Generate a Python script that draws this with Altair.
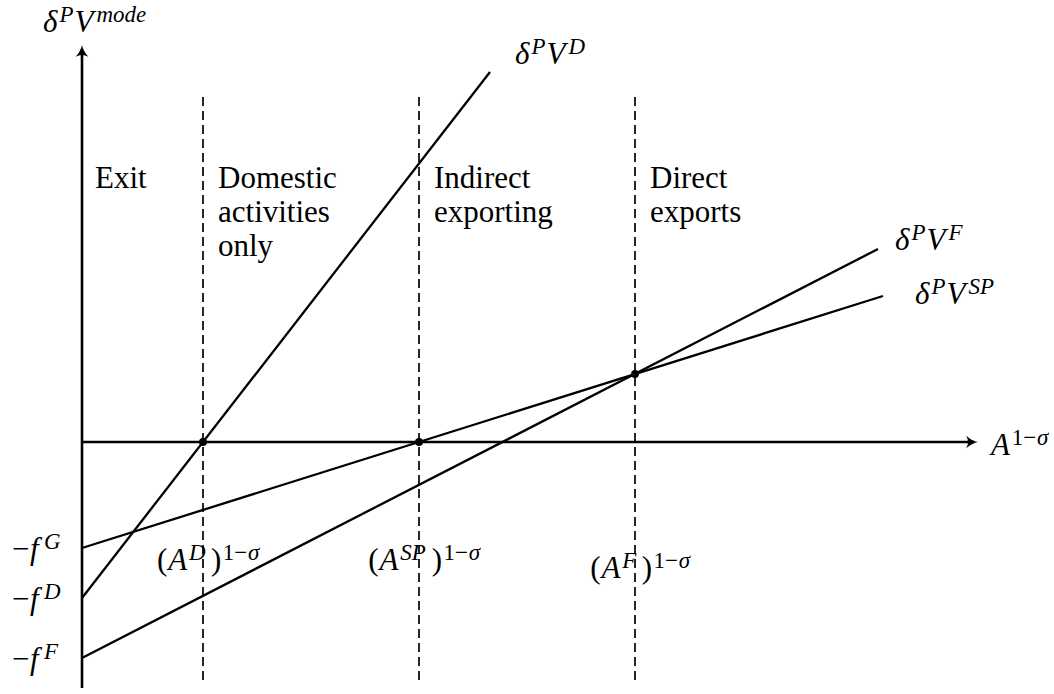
import altair as alt
import pandas as pd

# ---------------------------------------------------------------------------
# Values of the diagram (horizontal: A^{1-sigma}, vertical: delta^P V^mode)
# ---------------------------------------------------------------------------
cutoff_names = ["D", "SP", "F"]
cutoff_x = [12.1, 33.7, 55.3]          # (A^D), (A^SP), (A^F) to the power 1-sigma

line_names = ["D", "SP", "F"]
line_start_y = [-15.6, -10.6, -21.6]   # -f^D, -f^G, -f^F
line_end_x = [40.8, 80.1, 79.6]
line_end_y = [37.0, 14.6, 19.3]

dot_x = [12.1, 33.7, 55.3]
dot_y = [0.0, 0.0, 6.8]

regime_text = ["Exit", "Domestic\nactivities\nonly", "Indirect\nexporting", "Direct\nexports"]
regime_from = [0.0, 12.1, 33.7, 55.3]

x_axis_end = 89.6
y_axis_start = -24.6
y_axis_end = 39.7
guide_top = 34.5
guide_bottom = -23.8

# ---------------------------------------------------------------------------
# Frame: one data unit is 10 px on both axes
# ---------------------------------------------------------------------------
W, H = 1054, 694
PX = 10.0
X_DOMAIN = [-8.2, 97.2]
Y_DOMAIN = [-25.2, 44.2]
xs = alt.Scale(domain=X_DOMAIN, nice=False, zero=False)
ys = alt.Scale(domain=Y_DOMAIN, nice=False, zero=False)

INK = "#000000"
SERIF = "Liberation Serif"
MATH = 31
TEXT = 31
SUP = 0.74      # superscript scale
RAISE = 0.32    # superscript raise, in base font sizes


def X(f):
    return alt.X(f, type="quantitative", scale=xs, axis=None)


def Y(f):
    return alt.Y(f, type="quantitative", scale=ys, axis=None)


# axes
axes_df = pd.DataFrame({
    "x": [0.0, 0.0], "x2": [x_axis_end - 0.4, 0.0],
    "y": [0.0, y_axis_start], "y2": [0.0, y_axis_end - 0.4],
})
axes = alt.Chart(axes_df).mark_rule(color=INK, strokeWidth=2.6).encode(
    x=X("x"), x2="x2", y=Y("y"), y2="y2")

ARROW = "M0,0 Q-0.6,-0.12 -1.15,-0.62 Q-0.8,0 -1.15,0.62 Q-0.6,0.12 0,0 Z"
heads_df = pd.DataFrame({"x": [x_axis_end, 0.0], "y": [0.0, y_axis_end], "angle": [0, 270]})
heads = alt.Chart(heads_df).mark_point(
    shape=ARROW, filled=True, size=420, color=INK, opacity=1, strokeWidth=0
).encode(x=X("x"), y=Y("y"), angle=alt.Angle("angle:Q", scale=None))

# dashed cut-offs
guides_df = pd.DataFrame({"x": cutoff_x, "y": [guide_top] * 3, "y2": [guide_bottom] * 3})
guides = alt.Chart(guides_df).mark_rule(color=INK, strokeWidth=1.7, strokeDash=[9, 5]).encode(
    x=X("x"), y=Y("y"), y2="y2")

# profit lines
rows = []
for n, y0, xe, ye in zip(line_names, line_start_y, line_end_x, line_end_y):
    rows += [{"name": n, "x": 0.0, "y": y0}, {"name": n, "x": xe, "y": ye}]
lines = alt.Chart(pd.DataFrame(rows)).mark_line(color=INK, strokeWidth=2.3).encode(
    x=X("x"), y=Y("y"), detail="name:N")

dots = alt.Chart(pd.DataFrame({"x": dot_x, "y": dot_y})).mark_circle(
    color=INK, opacity=1, size=62).encode(x=X("x"), y=Y("y"))

# regime captions
reg_df = pd.DataFrame({
    "x": [v + (1.3 if i == 0 else 1.5) for i, v in enumerate(regime_from)],
    "y": [25.4] * 4, "t": regime_text,
})
regimes = alt.Chart(reg_df).mark_text(
    font=SERIF, fontSize=TEXT, align="left", baseline="alphabetic",
    lineBreak="\n", lineHeight=34, color=INK
).encode(x=X("x"), y=Y("y"), text="t:N")

# ---------------------------------------------------------------------------
# Math labels built from runs of (text, superscript?, style)
# ---------------------------------------------------------------------------
ITALIC_W = {"δ": 0.50, "P": 0.63, "V": 0.63, "D": 0.76, "F": 0.65, "S": 0.54,
            "G": 0.74, "A": 0.64, "m": 0.74, "o": 0.52, "d": 0.52, "e": 0.46,
            "f": 0.30, "σ": 0.56}
ROMAN_W = {"(": 0.36, ")": 0.36, "1": 0.52, "−": 0.58}
CORR = {"V": 0.08, "P": 0.06, "F": 0.06, "D": 0.04, "A": 0.03, "f": 0.15, "δ": 0.03, ")": 0.02}


def gap_after_sup(next_text):
    # a closing parenthesis needs more room after a slanted superscript
    return 0.15 if next_text.startswith(")") else 0.02


def layout(runs, base):
    pieces, cursor = [], 0.0
    for i, (txt, sup, style) in enumerate(runs):
        size = base * SUP if sup else base
        table = ITALIC_W if style == "i" else ROMAN_W
        pieces.append((txt, cursor, RAISE * base if sup else 0.0, size, style))
        cursor += sum(table.get(c, 0.5) for c in txt) * size
        nxt = runs[i + 1] if i + 1 < len(runs) else None
        if nxt is not None and nxt[1] and not sup:
            cursor += CORR.get(txt[-1], 0.03) * base
        if nxt is not None and sup and not nxt[1]:
            cursor += gap_after_sup(nxt[0]) * base
    return pieces, cursor


def V_runs(sup):
    return [("δ", 0, "i"), ("P", 1, "i"), ("V", 0, "i"), (sup, 1, "i")]


def A_runs(sup):
    return [("(", 0, "r"), ("A", 0, "i"), (sup, 1, "i"), (")", 0, "r"),
            ("1−", 1, "r"), ("σ", 1, "i")]


labels = [
    (-3.9, 41.0, V_runs("mode"), "left"),
    (43.3, 37.8, V_runs("D"), "left"),
    (81.3, 19.2, V_runs("F"), "left"),
    (83.3, 13.8, V_runs("SP"), "left"),
    (90.9, -1.3, [("A", 0, "i"), ("1−", 1, "r"), ("σ", 1, "i")], "left"),
]
fixed = {"G": line_start_y[1], "D": line_start_y[0], "F": line_start_y[2]}
for k, v in fixed.items():
    labels.append((-7.0, v - 1.1, [("−", 0, "r"), ("f", 0, "i"), (k, 1, "i")], "left"))
cut_label_y = [-12.8, -12.8, -13.6]
for n, cx, cy in zip(cutoff_names, cutoff_x, cut_label_y):
    labels.append((cx + 0.6, cy, A_runs(n), "center"))

piece_rows = []
for ax, ay, runs, how in labels:
    pieces, total = layout(runs, MATH)
    shift = -total / 2 if how == "center" else 0.0
    for txt, dx, dy, size, style in pieces:
        piece_rows.append({"x": ax + (dx + shift) / PX, "y": ay + dy / PX,
                           "t": txt, "s": size, "style": style})
pieces_df = pd.DataFrame(piece_rows)


def math_layer(style, font_style):
    return alt.Chart(pieces_df[pieces_df["style"] == style]).mark_text(
        font=SERIF, fontStyle=font_style, align="left", baseline="alphabetic", color=INK
    ).encode(x=X("x"), y=Y("y"), text="t:N", size=alt.Size("s:Q", scale=None))


chart = alt.layer(
    guides, lines, axes, heads, dots, regimes,
    math_layer("i", "italic"), math_layer("r", "normal"),
).properties(
    width=W, height=H, padding=0, autosize="none", background="white"
).configure_view(stroke=None)

chart.save("out.html", embed_options={"renderer": "svg", "actions": False})
